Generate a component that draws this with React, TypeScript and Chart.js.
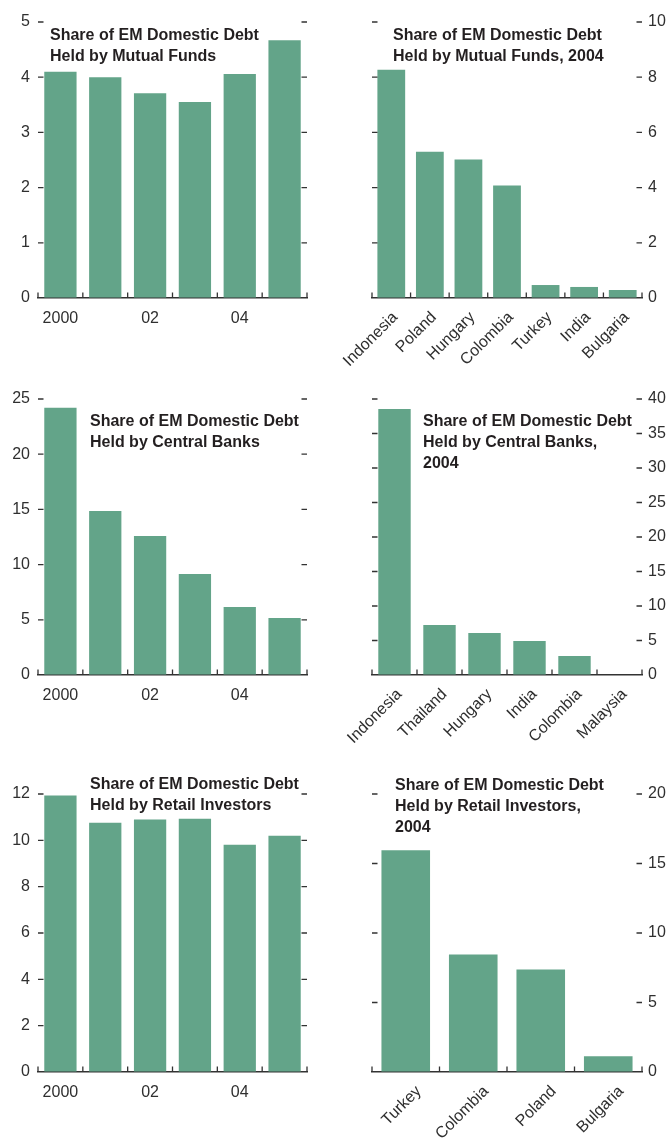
import React, { useEffect, useRef } from "react";
import { Chart, registerables } from "chart.js";

Chart.register(...registerables);

// ---------- data ----------
const years = ["2000", "2001", "2002", "2003", "2004", "2005"];
const yearTickLabels = ["2000", "", "02", "", "04", ""];

const mutualFundsShare = [4.1, 4.0, 3.71, 3.55, 4.06, 4.67];
const centralBanksShare = [24.2, 14.86, 12.6, 9.15, 6.16, 5.16];
const retailShare = [11.93, 10.76, 10.9, 10.93, 9.81, 10.2];

const mutualFunds2004Countries = ["Indonesia", "Poland", "Hungary", "Colombia", "Turkey", "India", "Bulgaria"];
const mutualFunds2004Values = [8.27, 5.3, 5.02, 4.08, 0.47, 0.4, 0.29];

const centralBanks2004Countries = ["Indonesia", "Thailand", "Hungary", "India", "Colombia", "Malaysia"];
const centralBanks2004Values = [38.55, 7.25, 6.09, 4.93, 2.75, 0];

const retail2004Countries = ["Turkey", "Colombia", "Poland", "Bulgaria"];
const retail2004Values = [15.96, 8.45, 7.37, 1.13];

// ---------- styles ----------
const BAR = "#63a489";
const AXIS = "#333333";
const TEXT = "#2f2f2f";
const TITLE = "#231f20";
const TICK_FONT = "'Liberation Sans', Arial, sans-serif";
const TITLE_FONT = "'Liberation Sans', Arial, sans-serif";

const innerTicks = {
  id: "innerTicks",
  afterDatasetsDraw(chart: any) {
    const { ctx, chartArea: a } = chart;
    const y = chart.scales.y;
    const x = chart.scales.x;
    const len = 5.5;
    ctx.save();
    ctx.strokeStyle = AXIS;
    ctx.lineWidth = 1.3;
    ctx.beginPath();
    y.ticks.forEach((t: any) => {
      if (t.value === y.min) return;
      const py = y.getPixelForValue(t.value);
      ctx.moveTo(a.left, py);
      ctx.lineTo(a.left + len, py);
      ctx.moveTo(a.right - len, py);
      ctx.lineTo(a.right, py);
    });
    const n = chart.data.labels.length;
    for (let i = 0; i <= n; i++) {
      let px;
      if (i === 0) px = a.left;
      else if (i === n) px = a.right;
      else px = (x.getPixelForValue(i - 1) + x.getPixelForValue(i)) / 2;
      ctx.moveTo(px, a.bottom);
      ctx.lineTo(px, a.bottom - len);
    }
    ctx.stroke();
    ctx.restore();
  },
};

type PanelProps = {
  left: number;
  top: number;
  width: number;
  height: number;
  side: "left" | "right";
  labels: string[];
  tickLabels?: string[];
  values: number[];
  yMax: number;
  yStep: number;
  padTop: number;
  xAxisHeight: number;
  yAxisWidth: number;
  sidePad: number;
  rotate: boolean;
  labelShift?: number;
  title: string[];
  titleLeft: number;
  titleTop: number;
};

function Panel(p: PanelProps) {
  const ref = useRef<HTMLCanvasElement>(null);
  useEffect(() => {
    const chart = new Chart(ref.current as HTMLCanvasElement, {
      type: "bar",
      data: {
        labels: p.labels,
        datasets: [
          {
            data: p.values,
            backgroundColor: BAR,
            borderWidth: 0,
            barPercentage: 0.72,
            categoryPercentage: 1,
          },
        ],
      },
      plugins: [innerTicks],
      options: {
        animation: false,
        responsive: false,
        maintainAspectRatio: false,
        events: [],
        layout: {
          padding: {
            top: p.padTop,
            bottom: 0,
            left: p.side === "right" ? p.sidePad : 0,
            right: p.side === "left" ? p.sidePad : 0,
          },
        },
        plugins: {
          legend: { display: false },
          tooltip: { enabled: false },
          title: { display: false },
        },
        scales: {
          x: {
            type: "category",
            offset: true,
            grid: { drawOnChartArea: false, drawTicks: false },
            border: { display: true, color: AXIS, width: 1.5 },
            ticks: {
              autoSkip: false,
              maxRotation: p.rotate ? 45 : 0,
              minRotation: p.rotate ? 45 : 0,
              padding: p.rotate ? 10 : 11,
              labelOffset: p.labelShift || 0,
              color: TEXT,
              font: { family: TICK_FONT, size: 16 },
              callback: (_v: any, i: number) => (p.tickLabels ? p.tickLabels[i] : p.labels[i]),
            },
            afterFit: (s: any) => {
              s.height = p.xAxisHeight;
              s.paddingLeft = 0;
              s.paddingRight = 0;
            },
          },
          y: {
            position: p.side,
            min: 0,
            max: p.yMax,
            grid: { drawOnChartArea: false, drawTicks: false },
            border: { display: false },
            ticks: {
              stepSize: p.yStep,
              padding: p.side === "left" ? 8 : 6,
              color: TEXT,
              font: { family: TICK_FONT, size: 16 },
            },
            afterFit: (s: any) => {
              s.width = p.yAxisWidth;
              s.paddingTop = 0;
              s.paddingBottom = 0;
            },
          },
        },
      } as any,
    });
    return () => chart.destroy();
  }, []);

  return (
    <>
      <canvas
        ref={ref}
        width={p.width}
        height={p.height}
        style={{ position: "absolute", left: p.left, top: p.top, width: p.width, height: p.height }}
      />
      <div
        style={{
          position: "absolute",
          left: p.titleLeft,
          top: p.titleTop,
          font: `bold 16px ${TITLE_FONT}`,
          lineHeight: "21px",
          color: TITLE,
          whiteSpace: "nowrap",
        }}
      >
        {p.title.map((t, i) => (
          <div key={i}>{t}</div>
        ))}
      </div>
    </>
  );
}

const LEFT = { left: 0, width: 335, side: "left" as const, yAxisWidth: 38, sidePad: 28 };
const RIGHT = { left: 315, width: 356, side: "right" as const, yAxisWidth: 29, sidePad: 57 };
const ROW1 = { top: 0, height: 375, padTop: 22, xAxisHeight: 77 };
const ROW2 = { top: 375, height: 385, padTop: 24, xAxisHeight: 85 };
const ROW3 = { top: 760, height: 378, padTop: 34, xAxisHeight: 66 };

export default function App() {
  return (
    <div style={{ position: "absolute", left: 0, top: 0, width: 671, height: 1138, background: "#fff", overflow: "hidden" }}>
      <Panel
        {...LEFT}
        {...ROW1}
        labels={years}
        tickLabels={yearTickLabels}
        values={mutualFundsShare}
        yMax={5}
        yStep={1}
        rotate={false}
        title={["Share of EM Domestic Debt", "Held by Mutual Funds"]}
        titleLeft={50}
        titleTop={24}
      />
      <Panel
        {...RIGHT}
        {...ROW1}
        labels={mutualFunds2004Countries}
        values={mutualFunds2004Values}
        yMax={10}
        yStep={2}
        rotate={true}
        labelShift={4}
        title={["Share of EM Domestic Debt", "Held by Mutual Funds, 2004"]}
        titleLeft={393}
        titleTop={24}
      />
      <Panel
        {...LEFT}
        {...ROW2}
        labels={years}
        tickLabels={yearTickLabels}
        values={centralBanksShare}
        yMax={25}
        yStep={5}
        rotate={false}
        title={["Share of EM Domestic Debt", "Held by Central Banks"]}
        titleLeft={90}
        titleTop={410}
      />
      <Panel
        {...RIGHT}
        {...ROW2}
        labels={centralBanks2004Countries}
        values={centralBanks2004Values}
        yMax={40}
        yStep={5}
        rotate={true}
        labelShift={5}
        title={["Share of EM Domestic Debt", "Held by Central Banks,", "2004"]}
        titleLeft={423}
        titleTop={410}
      />
      <Panel
        {...LEFT}
        {...ROW3}
        labels={years}
        tickLabels={yearTickLabels}
        values={retailShare}
        yMax={12}
        yStep={2}
        rotate={false}
        title={["Share of EM Domestic Debt", "Held by Retail Investors"]}
        titleLeft={90}
        titleTop={773}
      />
      <Panel
        {...RIGHT}
        {...ROW3}
        labels={retail2004Countries}
        values={retail2004Values}
        yMax={20}
        yStep={5}
        rotate={true}
        labelShift={13}
        title={["Share of EM Domestic Debt", "Held by Retail Investors,", "2004"]}
        titleLeft={395}
        titleTop={774}
      />
    </div>
  );
}
